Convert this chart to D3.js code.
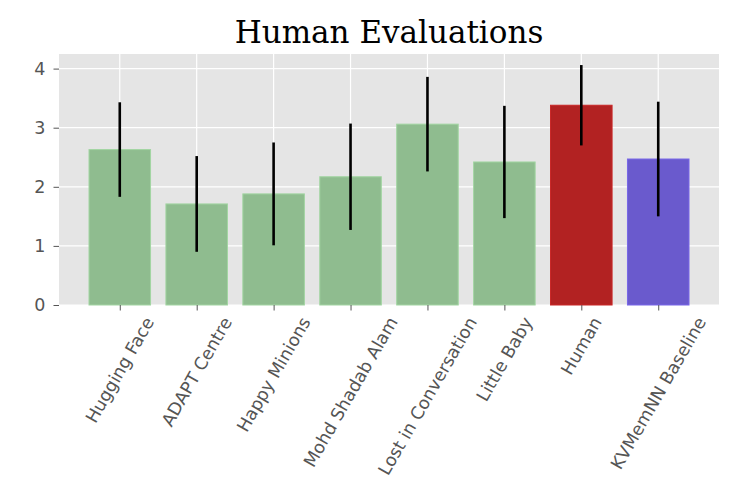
<!DOCTYPE html>
<html><head><meta charset="utf-8">
<script src="https://cdn.jsdelivr.net/npm/d3@7"></script>
<style>body{margin:0;background:#fff;} svg{display:block;}</style>
</head><body>
<svg id="c" width="743" height="495"></svg>
<script>
const categories = ["Hugging Face","ADAPT Centre","Happy Minions","Mohd Shadab Alam","Lost in Conversation","Little Baby","Human","KVMemNN Baseline"];
const means = [2.63, 1.71, 1.88, 2.17, 3.06, 2.42, 3.38, 2.47];
const errors = [0.80, 0.81, 0.87, 0.90, 0.80, 0.95, 0.68, 0.97];
const colors = ["#8fbc8f","#8fbc8f","#8fbc8f","#8fbc8f","#8fbc8f","#8fbc8f","#b22222","#6a5acd"];
const yTicks = [0,1,2,3,4];
const title = "Human Evaluations";

const svg = d3.select("#c");
const L = 59, R = 719, T = 54, B = 305;
const x = d3.scaleLinear().domain([-0.79, 7.79]).range([L, R]);
const y = d3.scaleLinear().domain([0, 4.247]).range([B, T]);

svg.append("rect").attr("x", L).attr("y", T).attr("width", R-L).attr("height", B-T).attr("fill", "#e5e5e5");
// grid
svg.append("g").selectAll("line").data(yTicks).join("line")
  .attr("x1", L).attr("x2", R).attr("y1", d=>y(d)).attr("y2", d=>y(d))
  .attr("stroke", "#fff").attr("stroke-width", 1.2);
svg.append("g").selectAll("line").data(categories).join("line")
  .attr("x1", (d,i)=>x(i)).attr("x2", (d,i)=>x(i)).attr("y1", T).attr("y2", B)
  .attr("stroke", "#fff").attr("stroke-width", 1.2);

// bars
const bw = x(0.8) - x(0);
svg.append("g").selectAll("rect").data(means).join("rect")
  .attr("x", (d,i)=>x(i)-bw/2).attr("width", bw)
  .attr("y", d=>y(d)).attr("height", d=>y(0)-y(d))
  .attr("fill", (d,i)=>colors[i])
  .attr("stroke", (d,i)=>d3.color(colors[i]).brighter(0.35))
  .attr("stroke-width", 1);

// error bars
svg.append("g").selectAll("line").data(means).join("line")
  .attr("x1", (d,i)=>x(i)).attr("x2", (d,i)=>x(i))
  .attr("y1", (d,i)=>y(d+errors[i])).attr("y2", (d,i)=>y(d-errors[i]))
  .attr("stroke", "#000").attr("stroke-width", 2.6);

const fs = 17.5;
// y axis
const yAxis = d3.axisLeft(y).tickValues(yTicks).tickFormat(d3.format("d")).tickSize(5.5).tickPadding(8);
const gy = svg.append("g").attr("transform", `translate(${L},0)`).call(yAxis);
gy.select(".domain").remove();
gy.selectAll("line").attr("stroke", "#555");
gy.selectAll("text").attr("fill", "#555").style("font-family", "DejaVu Sans").style("font-size", fs+"px");

// x axis
const xAxis = d3.axisBottom(x).tickValues(d3.range(categories.length)).tickFormat(()=>"").tickSize(5.5);
const gx = svg.append("g").attr("transform", `translate(0,${B})`).call(xAxis);
gx.select(".domain").remove();
gx.selectAll("line").attr("stroke", "#555");

const ang = 60*Math.PI/180;
const top0 = B + 5.5 + 3;
categories.forEach((c,i)=>{
  const t = svg.append("text").text(c)
    .attr("fill", "#555").style("font-family", "DejaVu Sans").style("font-size", fs+"px")
    .attr("text-anchor", "middle").attr("dy", "0.35em");
  const len = t.node().getComputedTextLength();
  const h = fs*1.15;
  const H = len*Math.sin(ang) + h*Math.cos(ang);
  t.attr("transform", `translate(${x(i)},${top0 + H/2}) rotate(-60)`);
});

svg.append("text").text(title).attr("x", (L+R)/2).attr("y", 42.5)
  .attr("text-anchor", "middle").style("font-family", "DejaVu Serif").style("font-size", "31px").attr("fill", "#000");
</script>
</body></html>
